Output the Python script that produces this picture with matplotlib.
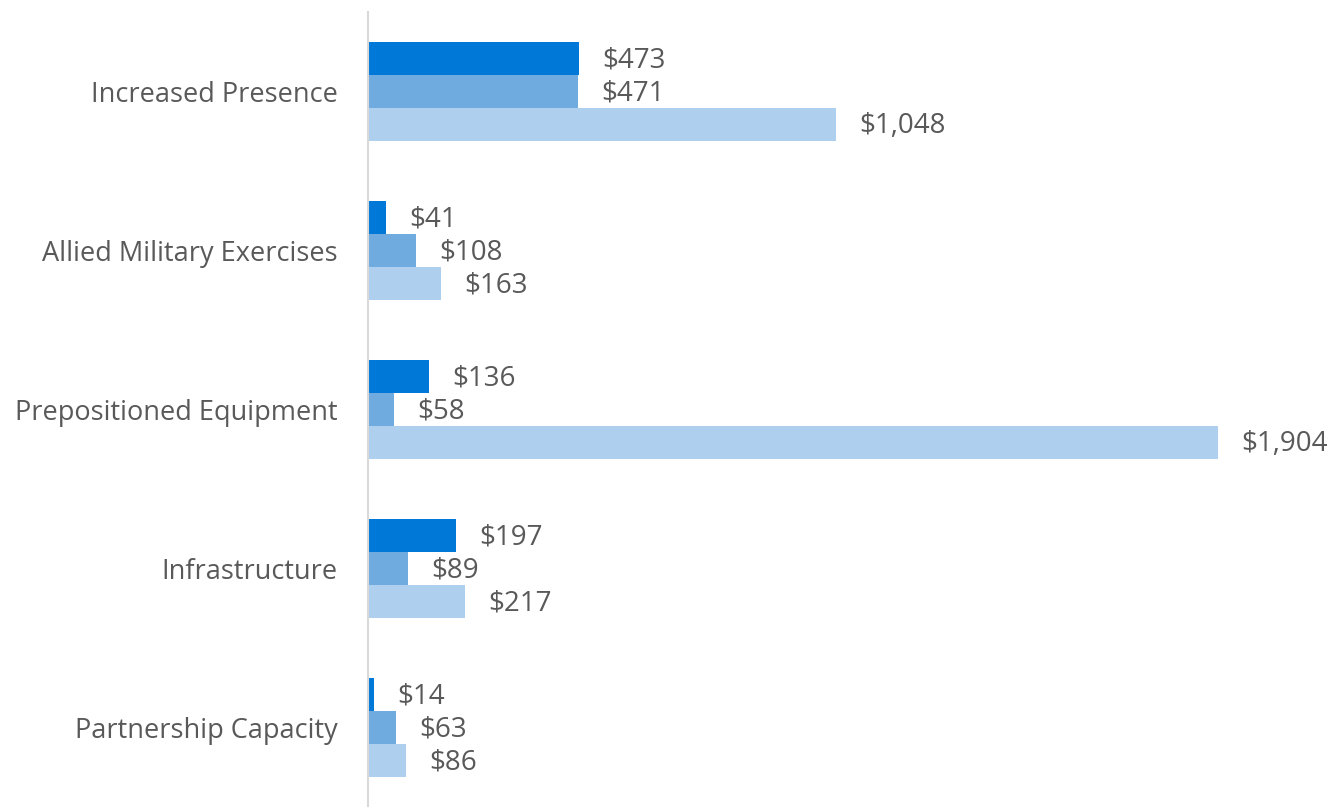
import matplotlib.pyplot as plt
import numpy as np

plt.rcParams['font.family'] = ['Open Sans', 'DejaVu Sans']

categories = ["Increased Presence", "Allied Military Exercises", "Prepositioned Equipment",
              "Infrastructure", "Partnership Capacity"]
series_a = [473, 41, 136, 197, 14]
series_b = [471, 108, 58, 89, 63]
series_c = [1048, 163, 1904, 217, 86]

colors = ["#0078D7", "#70ABE0", "#AFCFEE"]
text_color = "#595959"

fig = plt.figure(figsize=(13.36, 8.07), dpi=100)
ax = fig.add_axes([368 / 1336, 0, 1 - 368 / 1336, 1 - 12 / 807])

y = np.arange(len(categories))
h = 0.2075
for i, (vals, c) in enumerate(zip([series_a, series_b, series_c], colors)):
    pos = y + (i - 1) * h
    ax.barh(pos, vals, height=h, color=c)
    for p, v in zip(pos, vals):
        ax.text(v + 52, p + 0.01, f"${v:,}", va="center", ha="left",
                fontsize=20, color=text_color)

ax.set_ylim(len(categories) - 0.5, -0.5)
ax.set_xlim(0, 968 / (850 / 1904))
ax.set_yticks(y)
ax.set_yticklabels(categories, fontsize=19.5, color=text_color)
ax.tick_params(axis="y", length=0, pad=22)
ax.set_xticks([])
for s in ["top", "right", "bottom"]:
    ax.spines[s].set_visible(False)
ax.spines["left"].set_color("#D9D9D9")
ax.spines["left"].set_linewidth(1.5)

fig.savefig("out.png", dpi=100)
